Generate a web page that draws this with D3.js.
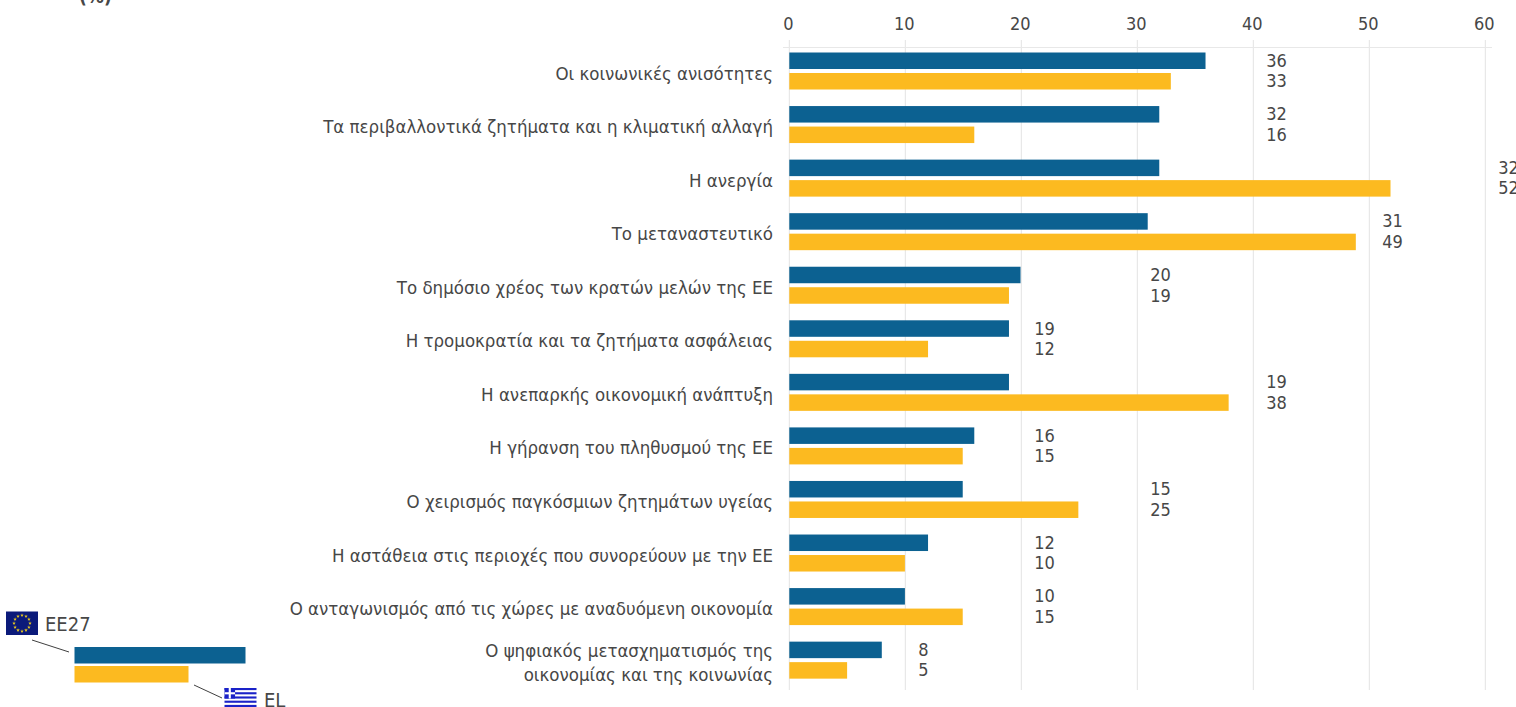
<!DOCTYPE html>
<html>
<head>
<meta charset="utf-8">
<script src="https://cdn.jsdelivr.net/npm/d3@7"></script>
<style>
  html, body { margin: 0; padding: 0; background: #fff; overflow: hidden; }
  text { font-family: "DejaVu Sans", sans-serif; font-stretch: condensed; fill: #474747; }
</style>
</head>
<body>
<div id="chart"></div>
<script>
var categories = [
    ['Οι κοινωνικές ανισότητες'],
    ['Τα περιβαλλοντικά ζητήματα και η κλιματική αλλαγή'],
    ['Η ανεργία'],
    ['Το μεταναστευτικό'],
    ['Το δημόσιο χρέος των κρατών μελών της ΕΕ'],
    ['Η τρομοκρατία και τα ζητήματα ασφάλειας'],
    ['Η ανεπαρκής οικονομική ανάπτυξη'],
    ['Η γήρανση του πληθυσμού της ΕΕ'],
    ['Ο χειρισμός παγκόσμιων ζητημάτων υγείας'],
    ['Η αστάθεια στις περιοχές που συνορεύουν με την ΕΕ'],
    ['Ο ανταγωνισμός από τις χώρες με αναδυόμενη οικονομία'],
    ['Ο ψηφιακός μετασχηματισμός της', 'οικονομίας και της κοινωνίας']
];
var eu27 = [36, 32, 32, 31, 20, 19, 19, 16, 15, 12, 10, 8];
var el = [33, 16, 52, 49, 19, 12, 38, 15, 25, 10, 15, 5];
var seriesNames = ['EE27', 'EL'];
var seriesColors = ['#0c6191', '#fcba20'];
var xTicks = [0, 10, 20, 30, 40, 50, 60];
var legendValues = [3, 2];

var width = 1516, height = 707;

var svg = d3.select('#chart').append('svg')
    .attr('width', width)
    .attr('height', height)
    .style('display', 'block');

var x = d3.scaleLinear().domain([0, 60]).range([789.3, 1485.3]);
// bars run a touch shorter than the gridlines in the original
var xBar = d3.scaleLinear().domain([0, 60]).range([789.3, 1483]);
var y = d3.scaleBand().domain(d3.range(categories.length)).range([47.3, 690]);
var ySub = d3.scaleBand().domain([0, 1]).range([5.2, 42.2]).paddingInner(0.195);

// percent unit, cut by the top edge like in the original
svg.append('text')
    .attr('x', 79)
    .attr('y', 3)
    .style('font-size', '19px')
    .style('font-weight', 700)
    .text('(%)');

// grid and axis
var axis = svg.append('g')
    .attr('transform', 'translate(-1.5,36)')
    .call(d3.axisTop(x).tickValues(xTicks).tickSize(0).tickPadding(6));
axis.select('.domain').remove();
axis.selectAll('text')
    .style('font-size', '18px')
    .style('font-family', '"DejaVu Sans", sans-serif')
    .style('font-stretch', 'condensed')
    .style('fill', '#474747');

svg.append('g').selectAll('line')
    .data(xTicks)
    .join('line')
    .attr('x1', d => x(d))
    .attr('x2', d => x(d))
    .attr('y1', 40)
    .attr('y2', 690)
    .attr('stroke', '#e3e3e3')
    .attr('stroke-width', 1);

svg.append('line')
    .attr('x1', 783)
    .attr('x2', 1492)
    .attr('y1', 47.5)
    .attr('y2', 47.5)
    .attr('stroke', '#e8e8e8')
    .attr('stroke-width', 1);

// bars
[eu27, el].forEach(function(values, s) {
    svg.append('g').selectAll('rect')
        .data(values)
        .join('rect')
        .attr('x', xBar(0))
        .attr('y', (d, i) => y(i) + ySub(s))
        .attr('width', d => xBar(d) - xBar(0))
        .attr('height', ySub.bandwidth())
        .attr('fill', seriesColors[s]);
});

// category labels
var labels = svg.append('g').selectAll('text')
    .data(categories)
    .join('text')
    .attr('text-anchor', 'end')
    .style('font-size', '18.5px');
labels.each(function(lines, i) {
    var mid = y(i) + y.bandwidth() / 2;
    var t = d3.select(this);
    lines.forEach(function(line, k) {
        t.append('tspan')
            .attr('x', 773)
            .attr('y', mid + 5.5 + (k - (lines.length - 1) / 2) * 24)
            .text(line);
    });
});

// value labels sit after the next gridline past the longer bar
function labelX(i) {
    var top = Math.floor(Math.max(eu27[i], el[i]) / 10) * 10 + 10;
    return x(top) + 13;
}
[eu27, el].forEach(function(values, s) {
    svg.append('g').selectAll('text')
        .data(values)
        .join('text')
        .attr('x', (d, i) => labelX(i))
        .attr('y', (d, i) => y(i) + ySub(s) + 14.3)
        .style('font-size', '18px')
        .text(d => d);
});

// legend
var legendX = d3.scaleLinear().domain([0, 3]).range([74.5, 245.5]);
svg.append('g').selectAll('rect')
    .data(legendValues)
    .join('rect')
    .attr('x', legendX(0))
    .attr('y', (d, i) => 647 + i * 19)
    .attr('width', d => legendX(d) - legendX(0))
    .attr('height', 16.5)
    .attr('fill', (d, i) => seriesColors[i]);

svg.append('line')
    .attr('x1', 32).attr('y1', 640).attr('x2', 69).attr('y2', 652)
    .attr('stroke', '#404040');
svg.append('line')
    .attr('x1', 194).attr('y1', 685).attr('x2', 222).attr('y2', 698)
    .attr('stroke', '#404040');

svg.append('text')
    .attr('x', 45).attr('y', 631)
    .style('font-size', '20px')
    .text(seriesNames[0]);
svg.append('text')
    .attr('x', 264).attr('y', 707)
    .style('font-size', '20px')
    .text(seriesNames[1]);

// EU flag
var eu = svg.append('g').attr('transform', 'translate(6,611.5)');
eu.append('rect').attr('width', 32).attr('height', 23.5).attr('fill', '#0b1a7a');
var star = d3.symbol().type(d3.symbolStar).size(4);
eu.selectAll('path')
    .data(d3.range(12))
    .join('path')
    .attr('d', star)
    .attr('fill', '#f7d417')
    .attr('transform', function(d) {
        var a = d / 12 * 2 * Math.PI;
        return 'translate(' + (16 + 8 * Math.sin(a)) + ',' + (11.75 - 8 * Math.cos(a)) + ')';
    });

// Greek flag
var gr = svg.append('g').attr('transform', 'translate(224.5,688)');
var stripeH = 19 / 9;
gr.append('rect').attr('width', 32).attr('height', 19).attr('fill', '#fff');
gr.selectAll('.stripe')
    .data(d3.range(0, 9, 2))
    .join('rect')
    .attr('class', 'stripe')
    .attr('y', d => d * stripeH)
    .attr('width', 32)
    .attr('height', stripeH)
    .attr('fill', '#1a22c8');
gr.append('rect').attr('width', stripeH * 5).attr('height', stripeH * 5).attr('fill', '#1a22c8');
gr.append('rect').attr('x', stripeH * 2).attr('width', stripeH).attr('height', stripeH * 5).attr('fill', '#fff');
gr.append('rect').attr('y', stripeH * 2).attr('width', stripeH * 5).attr('height', stripeH).attr('fill', '#fff');
</script>
</body>
</html>
